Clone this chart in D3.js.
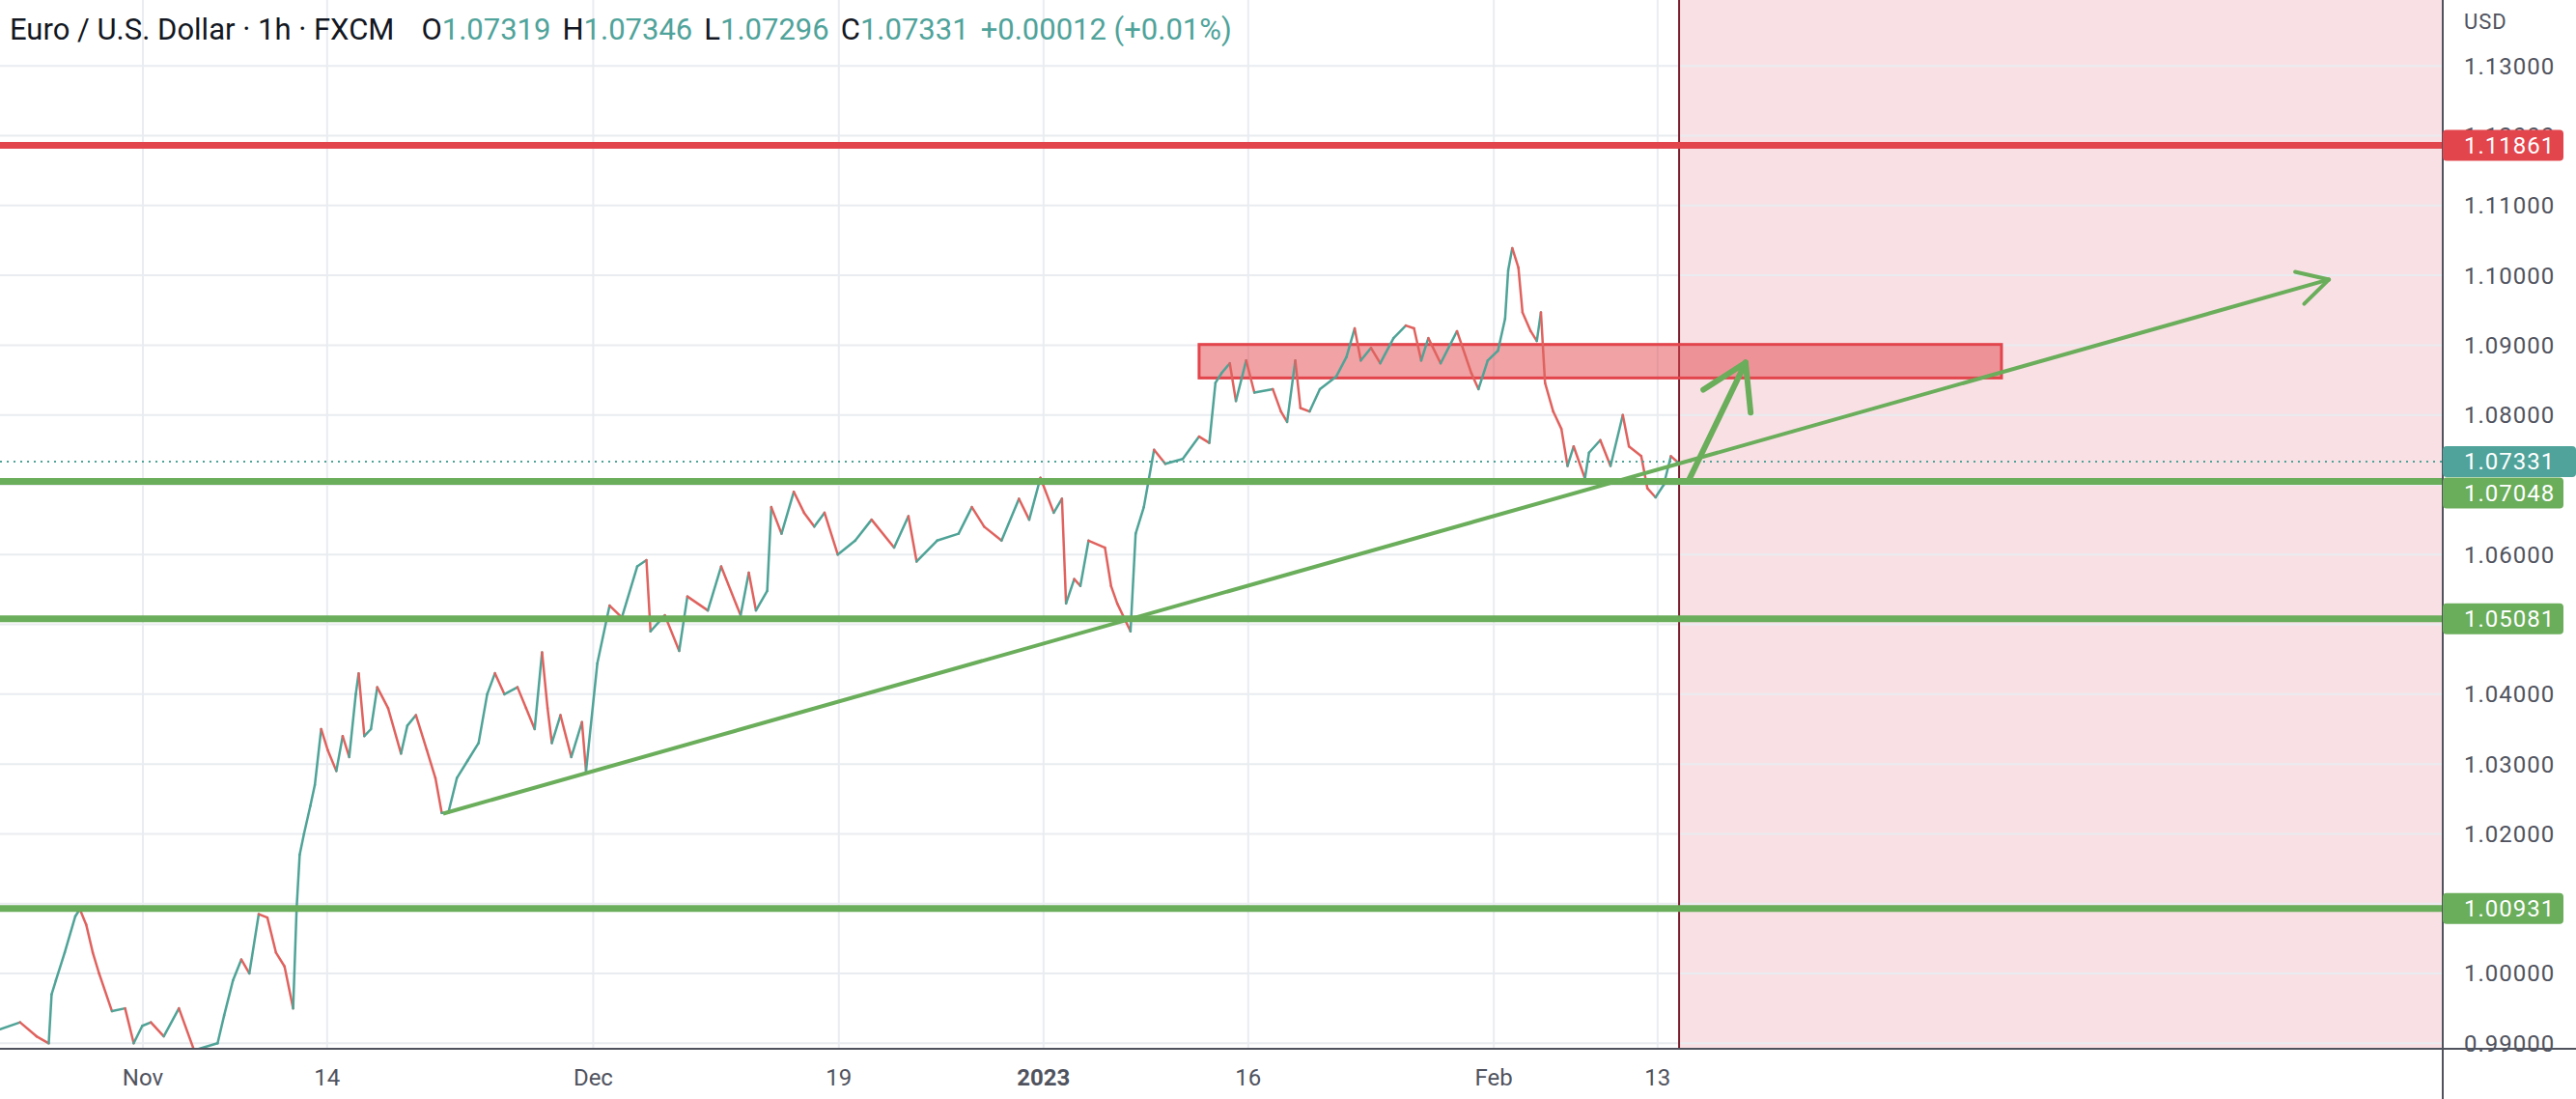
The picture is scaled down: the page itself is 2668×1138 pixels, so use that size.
<!DOCTYPE html>
<html><head><meta charset="utf-8">
<script src="https://cdn.jsdelivr.net/npm/d3@7"></script>
<style>body{margin:0;background:#fff}svg{display:block}</style>
</head><body>
<script>
// Trading-day index (0 = Nov 1 2022) and EURUSD price path
const pathDays = [-6.98,-6.0,-5.2,-4.6,-4.46,-4.25,-3.82,-3.3,-3.08,-2.77,-2.45,-2.14,-1.51,-0.87,-0.45,-0.03,0.39,1.02,1.76,2.5,3.65,3.97,4.4,4.81,5.2,5.66,6.08,6.5,6.92,7.34,7.51,7.66,7.87,8.18,8.4,8.71,9.03,9.45,9.76,10.08,10.4,10.54,10.82,11.14,11.45,11.98,12.61,12.92,13.34,13.87,14.29,14.6,14.92,15.34,15.87,16.4,16.82,17.2,17.66,18.3,18.72,19.14,19.5,19.77,19.98,20.4,20.93,21.45,21.65,22.2,22.8,23.4,24.15,24.6,24.8,25.5,26.2,26.6,27.6,28.25,29.2,29.6,29.95,30.5,30.7,31.2,31.8,32.3,32.8,33.3,33.95,34.8,35.6,36.7,37.4,37.8,38.8,39.85,40.5,41.1,41.95,42.8,43.3,43.85,44.5,44.9,45.1,45.5,45.8,46.2,47.0,47.3,47.6,48.25,48.5,48.9,49.4,49.95,50.8,51.6,52.1,52.4,52.7,53.1,53.4,53.9,54.3,55.2,55.6,55.9,56.3,56.55,57.0,57.5,58.3,58.8,59.2,59.5,60.0,60.45,61.1,61.7,62.1,62.45,62.8,63.4,64.2,64.9,65.25,65.7,66.2,66.55,66.7,66.9,67.2,67.4,67.8,68.1,68.3,68.5,68.9,69.3,69.6,69.9,70.45,70.65,71.2,71.7,72.3,72.6,73.2,73.5,73.9,74.3,74.65,74.95];
const pathPrices = [0.992,0.993,0.991,0.990,0.997,0.999,1.003,1.0082,1.0092,1.007,1.003,1.0,0.9946,0.995,0.990,0.9925,0.993,0.991,0.995,0.989,0.990,0.994,0.999,1.002,1.0,1.0085,1.008,1.003,1.001,0.995,1.0093,1.017,1.020,1.024,1.027,1.035,1.032,1.029,1.034,1.031,1.040,1.043,1.034,1.035,1.041,1.038,1.0315,1.0355,1.037,1.032,1.028,1.023,1.023,1.028,1.0305,1.033,1.040,1.043,1.040,1.041,1.038,1.035,1.046,1.038,1.033,1.037,1.031,1.036,1.029,1.0444,1.0527,1.051,1.0583,1.0592,1.049,1.0513,1.0462,1.054,1.052,1.0583,1.0513,1.0574,1.052,1.0548,1.0668,1.063,1.069,1.066,1.064,1.066,1.060,1.062,1.065,1.061,1.0655,1.059,1.062,1.063,1.0668,1.064,1.062,1.068,1.065,1.071,1.066,1.068,1.053,1.0565,1.0555,1.062,1.061,1.0555,1.053,1.049,1.063,1.0668,1.075,1.073,1.0737,1.0769,1.076,1.0846,1.0860,1.0874,1.082,1.0878,1.0832,1.0837,1.0805,1.079,1.0878,1.081,1.0805,1.0837,1.0855,1.0883,1.0924,1.0878,1.0896,1.0874,1.091,1.0928,1.0924,1.0878,1.091,1.0874,1.092,1.086,1.0837,1.0878,1.0892,1.0938,1.1007,1.1039,1.1011,1.0947,1.092,1.0906,1.0947,1.0846,1.0805,1.078,1.0727,1.0755,1.0709,1.0746,1.0764,1.0727,1.080,1.0755,1.0741,1.0695,1.0682,1.07,1.0741,1.07331];

const priceTicks = [0.99,1.00,1.01,1.02,1.03,1.04,1.05,1.06,1.07,1.08,1.09,1.10,1.11,1.12,1.13];
const hiddenTicks = [1.01,1.05,1.07];
const timeTickDays = [0,9,22,34,44,54,66,74];
const timeTickLabels = ["Nov","14","Dec","19","2023","16","Feb","13"];
const levelPrices = [1.11861,1.07048,1.05081,1.00931];
const levelColors = ["#e2454c","#6aad5a","#6aad5a","#6aad5a"];
const lastPrice = 1.07331;
const zoneBox = {d0:51.6, d1:90.8, p0:1.0853, p1:1.0901};
const trendLine = {d0:14.67, p0:1.0229, d1:106.8, p1:1.0994};
const upArrow = {d0:75.5, p0:1.0705, d1:78.3, p1:1.0875};
const futureStartDay = 75.05;
const ohlc = {O:"1.07319",H:"1.07346",L:"1.07296",C:"1.07331",chg:"+0.00012 (+0.01%)"};

const W=2668,H=1138,plotR=2530,plotB=1086;
const x=d3.scaleLinear().domain([0,1]).range([148,169.2]);
const y=d3.scaleLinear().domain([1.05081,1.00931]).range([640.7,940.7]);
const svg=d3.select("body").append("svg").attr("width",W).attr("height",H);
svg.append("defs").append("clipPath").attr("id","pc").append("rect").attr("width",plotR).attr("height",plotB);
const g=svg.append("g").attr("clip-path","url(#pc)");

g.append("rect").attr("x",x(futureStartDay)).attr("y",0).attr("width",plotR-x(futureStartDay)).attr("height",plotB).attr("fill","#f9e0e4");
g.selectAll(".hg").data(priceTicks).join("line").attr("x1",0).attr("x2",plotR).attr("y1",d=>y(d)).attr("y2",d=>y(d)).attr("stroke","#e9ecf0").attr("stroke-width",2);
g.selectAll(".vg").data(timeTickDays).join("line").attr("x1",d=>x(d)).attr("x2",d=>x(d)).attr("y1",0).attr("y2",plotB).attr("stroke","#e9ecf0").attr("stroke-width",2);
g.append("line").attr("x1",x(futureStartDay)).attr("x2",x(futureStartDay)).attr("y1",0).attr("y2",plotB).attr("stroke","#7a1f2e").attr("stroke-width",2);

g.append("rect").attr("x",x(zoneBox.d0)).attr("y",y(zoneBox.p1)).attr("width",x(zoneBox.d1)-x(zoneBox.d0)).attr("height",y(zoneBox.p0)-y(zoneBox.p1))
 .attr("fill","rgba(226,69,76,0.5)").attr("stroke","#e2454c").attr("stroke-width",3);

const segs=d3.range(1,pathDays.length).map(i=>({a:i-1,b:i}));
g.selectAll(".seg").data(segs).join("line")
 .attr("x1",s=>x(pathDays[s.a])).attr("y1",s=>y(pathPrices[s.a]))
 .attr("x2",s=>x(pathDays[s.b])).attr("y2",s=>y(pathPrices[s.b]))
 .attr("stroke",s=>pathPrices[s.b]>=pathPrices[s.a]?"#4fa397":"#e0625e").attr("stroke-width",2.5).attr("stroke-linecap","round");

g.selectAll(".lv").data(levelPrices).join("line").attr("x1",0).attr("x2",plotR).attr("y1",d=>y(d)).attr("y2",d=>y(d))
 .attr("stroke",(d,i)=>levelColors[i]).attr("stroke-width",7);
g.append("line").attr("x1",0).attr("x2",plotR).attr("y1",y(lastPrice)).attr("y2",y(lastPrice)).attr("stroke","#4fa397").attr("stroke-width",2).attr("stroke-dasharray","2,5");

const tx0=x(trendLine.d0),ty0=y(trendLine.p0),tx1=x(trendLine.d1),ty1=y(trendLine.p1);
g.append("line").attr("x1",tx0).attr("y1",ty0).attr("x2",tx1).attr("y2",ty1).attr("stroke","#6aad5a").attr("stroke-width",4);
function head(x0,y0,x1,y1,len,ang,w){
  const a=Math.atan2(y1-y0,x1-x0);
  [a+Math.PI-ang,a+Math.PI+ang].forEach(b=>g.append("line").attr("x1",x1).attr("y1",y1).attr("x2",x1+len*Math.cos(b)).attr("y2",y1+len*Math.sin(b)).attr("stroke","#6aad5a").attr("stroke-width",w).attr("stroke-linecap","round"));
}
head(tx0,ty0,tx1,ty1,36,0.5,4);
const ax0=x(upArrow.d0),ay0=y(upArrow.p0),ax1=x(upArrow.d1),ay1=y(upArrow.p1);
g.append("line").attr("x1",ax0).attr("y1",ay0).attr("x2",ax1).attr("y2",ay1).attr("stroke","#6aad5a").attr("stroke-width",6).attr("stroke-linecap","round");
head(ax0,ay0,ax1,ay1,52,0.55,6);

svg.append("line").attr("x1",0).attr("x2",W).attr("y1",plotB).attr("y2",plotB).attr("stroke","#50535e").attr("stroke-width",2);
svg.append("line").attr("x1",plotR).attr("x2",plotR).attr("y1",0).attr("y2",H).attr("stroke","#50535e").attr("stroke-width",2);
const font="Roboto, 'Liberation Sans', sans-serif";
svg.selectAll(".pt").data(priceTicks.filter(d=>!hiddenTicks.includes(d))).join("text").attr("x",2552).attr("y",d=>y(d)).attr("dy","0.35em")
 .attr("font-family",font).attr("font-size",24).attr("fill","#50535e").attr("letter-spacing","1").text(d=>d.toFixed(5));
svg.append("text").attr("x",2552).attr("y",22).attr("dy","0.35em").attr("font-family",font).attr("font-size",22).attr("fill","#50535e").attr("letter-spacing","1").text("USD");
svg.selectAll(".tt").data(timeTickDays).join("text").attr("x",d=>x(d)).attr("y",1116).attr("dy","0.35em").attr("text-anchor","middle")
 .attr("font-family",font).attr("font-size",24).attr("fill","#50535e").attr("font-weight",(d,i)=>timeTickLabels[i]==="2023"?"bold":"normal").text((d,i)=>timeTickLabels[i]);

const labs=levelPrices.map((p,i)=>({p,c:levelColors[i],w:125,off:i===1?12:0})).concat([{p:lastPrice,c:"#4fa39a",w:138,off:0}]);
labs.forEach(l=>{
  const cy=y(l.p)+l.off;
  svg.append("rect").attr("x",plotR).attr("y",cy-16).attr("width",l.w).attr("height",32).attr("rx",4).attr("fill",l.c);
  svg.append("text").attr("x",2552).attr("y",cy).attr("dy","0.35em").attr("font-family",font).attr("font-size",24).attr("fill","#fff").attr("letter-spacing","1").text(l.p.toFixed(5));
});

const hdr=svg.append("text").attr("x",10).attr("y",30).attr("dy","0.35em").attr("font-family",font).attr("font-size",31);
hdr.append("tspan").attr("fill","#131722").text("Euro / U.S. Dollar · 1h · FXCM");
[["O",ohlc.O],["H",ohlc.H],["L",ohlc.L],["C",ohlc.C]].forEach(([k,v],i)=>{
  hdr.append("tspan").attr("fill","#131722").attr("dx",i===0?28:12).text(k);
  hdr.append("tspan").attr("fill","#4fa39a").text(v);
});
hdr.append("tspan").attr("fill","#4fa39a").attr("dx",12).text(ohlc.chg);
</script>
</body></html>
